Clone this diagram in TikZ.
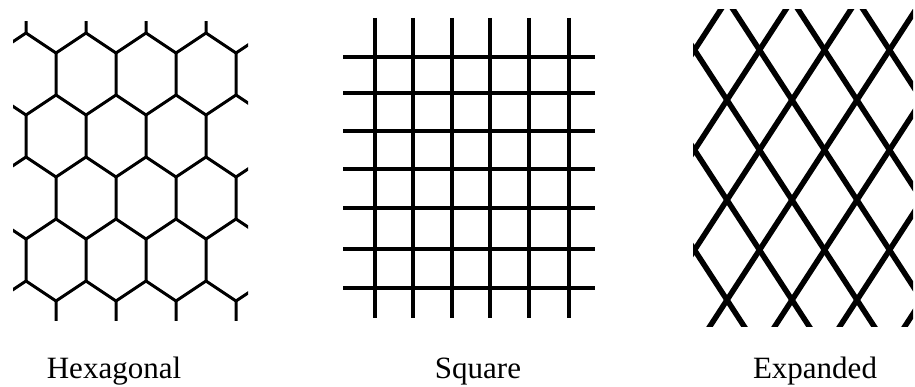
\documentclass[tikz,border=0pt]{standalone}
\usepackage{fontspec}
\setmainfont{Liberation Serif}
\tikzset{
  hexline/.style={line width=3pt, line join=round},
  sqline/.style={line width=3.4pt},
  meshline/.style={line width=5.5pt},
  lbl/.style={anchor=base, inner sep=0pt, font=\fontsize{31}{36}\selectfont}
}
\begin{document}
\begin{tikzpicture}[x=1pt, y=-1pt]
    \useasboundingbox (0,0) rectangle (915,387);
    % hexagonal mesh
    \begin{scope}
        \clip (13,22) rectangle (248,320);
        \foreach \s in {0,...,5} {
            \foreach \k in {-1,...,4} {
                \pgfmathsetmacro{\xc}{26+60*\k+30*mod(\s,2)}
                \pgfmathsetmacro{\yt}{-9+62*\s}
                \draw[hexline] (\xc,\yt) -- (\xc,\yt+42) -- (\xc-30,\yt+62);
                \draw[hexline] (\xc,\yt+42) -- (\xc+30,\yt+62);
            }
        }
    \end{scope}
    % square mesh
    \foreach \x in {375,413,452,490,529,569}
        \draw[sqline] (\x,18) -- (\x,318);
    \foreach \y in {57,93,131,169,208,249,288}
        \draw[sqline] (343,\y) -- (595,\y);
    % expanded mesh
    \begin{scope}
        \clip (693,10) rectangle (913,326);
        \foreach \k in {-4,...,6} {
            \draw[meshline] (714+65*\k,-20) -- (961+65*\k,360);
            \draw[meshline] (740+65*\k,-20) -- (493+65*\k,360);
        }
    \end{scope}
    \node[lbl] (hexlbl) at (114,378) {Hexagonal};
    \node[lbl] (sqlbl) at (478,378) {Square};
    \node[lbl] (explbl) at (815,378) {Expanded};
\end{tikzpicture}
\end{document}
